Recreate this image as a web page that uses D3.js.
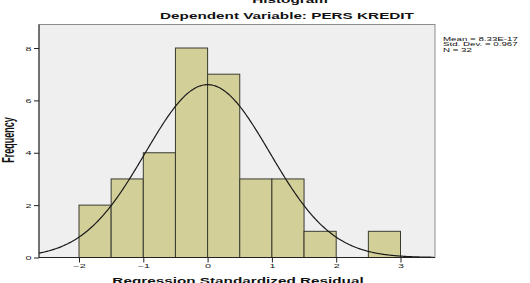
<!DOCTYPE html>
<html>
<head>
<meta charset="utf-8">
<script src="https://cdn.jsdelivr.net/npm/d3@7"></script>
<style>
  html, body { margin: 0; padding: 0; background: #ffffff; }
  svg { display: block; }
  text { font-family: "Liberation Sans", Arial, sans-serif; }
</style>
</head>
<body>
<svg id="chart" width="530" height="283"></svg>
<script>
// ---- data ----
const binStarts = [-2, -1.5, -1, -0.5, 0, 0.5, 1, 1.5, 2, 2.5];
const binCounts = [2, 3, 4, 8, 7, 3, 3, 1, 0, 1];
const binWidth = 0.5;
const xTicks = [-2, -1, 0, 1, 2, 3];
const yTicks = [0, 2, 4, 6, 8];
const statMean = 8.33e-17;
const statSD = 0.967;
const statN = 32;
const legendLines = ["Mean = 8.33E-17", "Std. Dev. = 0.967", "N = 32"];
const titleLines = ["Histogram", "Dependent Variable: PERS KREDIT"];
const xTitle = "Regression Standardized Residual";
const yTitle = "Frequency";

// ---- layout ----
const SX = 1.8; // horizontal stretch of the original picture's text
const plot = { left: 39, right: 435, top: 24.5, bottom: 257.5 };
const svg = d3.select("#chart");

const x = d3.scaleLinear().domain([-2, 3]).range([79, 400.5]);
const xDom = [x.invert(plot.left), x.invert(plot.right)];
const y = d3.scaleLinear().domain([0, 8]).range([plot.bottom, 48]);

// plot background
svg.append("rect")
  .attr("x", plot.left).attr("y", plot.top)
  .attr("width", plot.right - plot.left).attr("height", plot.bottom - plot.top)
  .attr("fill", "#efefef").attr("stroke", "#8c8c8c").attr("stroke-width", 1);

// bars
svg.append("g").selectAll("rect")
  .data(binStarts.map((s, i) => ({ s, c: binCounts[i] })).filter(d => d.c > 0))
  .join("rect")
  .attr("x", d => x(d.s))
  .attr("y", d => y(d.c))
  .attr("width", d => x(d.s + binWidth) - x(d.s))
  .attr("height", d => y(0) - y(d.c))
  .attr("fill", "#d3cf98")
  .attr("stroke", "#3a3a30")
  .attr("stroke-width", 1);

// normal curve
const pdf = v => Math.exp(-0.5 * Math.pow((v - statMean) / statSD, 2)) / (statSD * Math.sqrt(2 * Math.PI));
const curvePts = d3.range(xDom[0], xDom[1] + 0.001, 0.02).map(v => [v, statN * binWidth * pdf(v)]);
svg.append("path")
  .datum(curvePts)
  .attr("fill", "none")
  .attr("stroke", "#1a1a1a")
  .attr("stroke-width", 1.2)
  .attr("d", d3.line().x(d => x(d[0])).y(d => y(d[1])).curve(d3.curveBasis));

// axes
const xAxis = svg.append("g")
  .attr("transform", `translate(0,${plot.bottom})`)
  .call(d3.axisBottom(x).tickValues(xTicks).tickSize(5).tickSizeOuter(0).tickFormat(d3.format("d")));
xAxis.select(".domain").remove();
xAxis.append("line").attr("x1", plot.left).attr("x2", plot.right)
  .attr("stroke", "#222").attr("stroke-width", 1);
xAxis.selectAll(".tick line").attr("stroke", "#222");
xAxis.selectAll(".tick text")
  .attr("y", 0).attr("dy", 0)
  .attr("transform", `translate(0,10.5) scale(${SX},1)`)
  .attr("font-size", 6).attr("fill", "#222")
  .attr("font-family", "Liberation Sans, Arial, sans-serif");

const yAxis = svg.append("g")
  .attr("transform", `translate(${plot.left},0)`)
  .call(d3.axisLeft(y).tickValues(yTicks).tickSize(5).tickSizeOuter(0).tickFormat(d3.format("d")));
yAxis.select(".domain").remove();
yAxis.append("line").attr("y1", plot.top).attr("y2", plot.bottom)
  .attr("stroke", "#222").attr("stroke-width", 1);
yAxis.selectAll(".tick line").attr("stroke", "#222");
yAxis.selectAll(".tick text")
  .attr("x", 0).attr("dy", "0.35em")
  .attr("transform", `translate(-7.5,0) scale(${SX},1)`)
  .attr("font-size", 6).attr("fill", "#222")
  .attr("font-family", "Liberation Sans, Arial, sans-serif");

// text helper
function label(tx, ty, s, size, weight, anchor, rot) {
  svg.append("text")
    .attr("transform", `translate(${tx},${ty}) scale(${SX},1)` + (rot ? ` rotate(${rot})` : ""))
    .attr("font-size", size)
    .attr("font-weight", weight)
    .attr("text-anchor", anchor)
    .attr("fill", "#111")
    .text(s);
}

// titles
label(290, 3, titleLines[0], 8.5, "bold", "middle");
label(287, 19.3, titleLines[1], 8.5, "bold", "middle");
label(238, 283.5, xTitle, 8.5, "bold", "middle");
label(13.5, 140, yTitle, 9, "bold", "middle", -90);

// legend
legendLines.forEach((s, i) => label(443, 40.5 + i * 5.6, s, 5.4, "normal", "start"));
</script>
</body>
</html>
